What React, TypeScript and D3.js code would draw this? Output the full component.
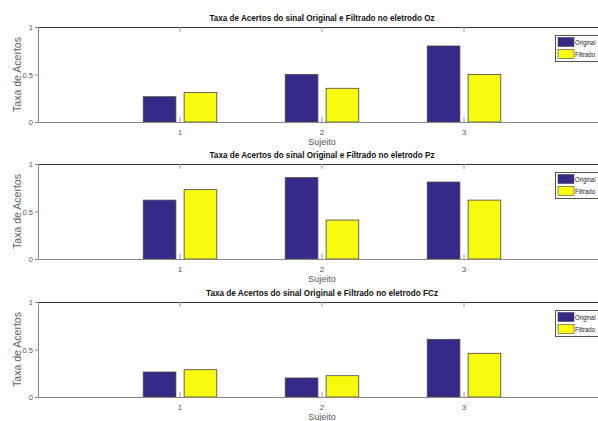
import React from 'react';
import * as d3 from 'd3';

// data
const subjects = [1, 2, 3];
const electrodes = ['Oz', 'Pz', 'FCz'];
const seriesNames = ['Original', 'Filtrado'];
const originalRates = [
  [0.266, 0.5, 0.8],
  [0.62, 0.856, 0.81],
  [0.263, 0.2, 0.607],
];
const filteredRates = [
  [0.31, 0.355, 0.5],
  [0.73, 0.41, 0.62],
  [0.287, 0.224, 0.46],
];
const yTicks = [0, 0.5, 1];

const colors = ['#352a87', '#f9fb0e'];
const sans = '"Liberation Sans", Arial, sans-serif';

const W = 598;
const H = 421;
const panelTops = [27, 164, 302];
const panelH = 95;

const Panel: React.FC<{ idx: number }> = ({ idx }) => {
  const top = panelTops[idx];
  const x = d3.scaleLinear().domain([0, 4]).range([38, 606]);
  const y = d3.scaleLinear().domain([0, 1]).range([top + panelH, top]);
  const barW = 0.23;
  const offsets = [-0.144, 0.144];
  const series = [originalRates[idx], filteredRates[idx]];
  const bottom = y(0);
  const title = `Taxa de Acertos do sinal Original e Filtrado no eletrodo ${electrodes[idx]}`;

  return (
    <g>
      <text
        x={322}
        y={top - 6}
        textAnchor="middle"
        fontFamily={sans}
        fontWeight="bold"
        fontSize={9.5}
        fill="#111"
        textLength={idx === 2 ? 232 : 225}
        lengthAdjust="spacingAndGlyphs"
      >
        {title}
      </text>
      {series.map((vals, s) =>
        vals.map((v, i) => (
          <rect
            key={`${s}-${i}`}
            x={x(subjects[i] + offsets[s] - barW / 2)}
            y={y(v)}
            width={x(barW) - x(0)}
            height={bottom - y(v)}
            fill={colors[s]}
            stroke="#444"
            strokeWidth={0.8}
          />
        ))
      )}
      {/* axes */}
      <line x1={38} x2={W} y1={top + 0.5} y2={top + 0.5} stroke="#333" strokeWidth={1} />
      <line x1={38} x2={W} y1={bottom + 0.5} y2={bottom + 0.5} stroke="#888" strokeWidth={1} />
      <line x1={38.5} x2={38.5} y1={top} y2={bottom + 1} stroke="#888" strokeWidth={1} />
      {subjects.map(s => (
        <g key={s}>
          <line x1={x(s)} x2={x(s)} y1={top} y2={top + 5} stroke="#999" />
          <line x1={x(s)} x2={x(s)} y1={bottom} y2={bottom - 5} stroke="#999" />
          <text x={x(s)} y={bottom + 13} textAnchor="middle" fontFamily={sans} fontSize={8} fill="#555">
            {s}
          </text>
        </g>
      ))}
      {yTicks.map(t => (
        <g key={t}>
          <line x1={35} x2={38} y1={y(t) + 0.5} y2={y(t) + 0.5} stroke="#888" />
          <text x={33} y={y(t) + 3} textAnchor="end" fontFamily={sans} fontSize={7.5} fill="#555">
            {t}
          </text>
        </g>
      ))}
      <text x={322} y={bottom + 22.5} textAnchor="middle" fontFamily={sans} fontSize={9} fill="#555">
        Sujeito
      </text>
      <text
        transform={`translate(21,${top + panelH / 2}) rotate(-90)`}
        textAnchor="middle"
        fontFamily={sans}
        fontSize={10}
        fill="#666"
        textLength={75}
        lengthAdjust="spacingAndGlyphs"
      >
        Taxa de Acertos
      </text>
      {/* legend */}
      <rect x={555.5} y={top + 8.5} width={60} height={26} fill="#fff" stroke="#555" strokeWidth={1} />
      {seriesNames.map((n, k) => (
        <g key={n}>
          <rect x={558} y={top + 10.5 + k * 12} width={16} height={9} fill={colors[k]} stroke="#444" strokeWidth={0.6} />
          <text
            x={575}
            y={top + 18 + k * 12}
            fontFamily={sans}
            fontSize={7}
            fill="#222"
            textLength={k === 0 ? 20.5 : 20}
            lengthAdjust="spacingAndGlyphs"
          >
            {n}
          </text>
        </g>
      ))}
    </g>
  );
};

export default function App() {
  return (
    <svg width={W} height={H} style={{ position: 'absolute', left: 0, top: 0, background: '#fff' }}>
      <rect width={W} height={H} fill="#fff" />
      {electrodes.map((_, i) => (
        <Panel key={i} idx={i} />
      ))}
    </svg>
  );
}
